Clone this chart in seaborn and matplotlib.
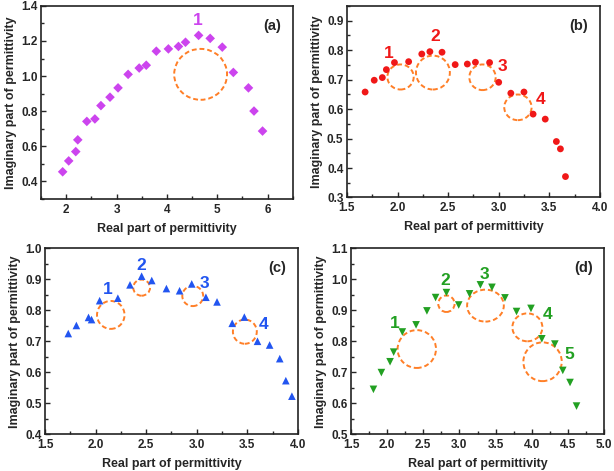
import matplotlib
matplotlib.use("Agg")
import matplotlib.pyplot as plt
from matplotlib.patches import Ellipse
from matplotlib.ticker import MultipleLocator, FormatStrFormatter
import seaborn as sns
import pandas as pd

# --- dados ---
a_real = [1.93, 2.05, 2.19, 2.23, 2.41, 2.57, 2.69, 2.87, 3.03, 3.23, 3.45, 3.59,
          3.79, 4.03, 4.23, 4.37, 4.63, 4.86, 5.10, 5.32, 5.62, 5.73, 5.90]
a_imag = [0.455, 0.517, 0.570, 0.637, 0.742, 0.756, 0.832, 0.880, 0.933, 1.010, 1.046, 1.062,
          1.142, 1.155, 1.169, 1.193, 1.232, 1.215, 1.165, 1.021, 0.933, 0.801, 0.687]

b_real = [1.68, 1.77, 1.85, 1.89, 1.97, 2.11, 2.24, 2.32, 2.44, 2.57, 2.69, 2.77,
          2.91, 3.00, 3.12, 3.25, 3.34, 3.46, 3.57, 3.61, 3.66]
b_imag = [0.658, 0.698, 0.707, 0.734, 0.758, 0.761, 0.787, 0.795, 0.793, 0.751, 0.753, 0.759,
          0.758, 0.691, 0.654, 0.658, 0.583, 0.566, 0.490, 0.465, 0.371]

c_real = [1.73, 1.81, 1.93, 1.96, 2.04, 2.22, 2.34, 2.455, 2.555, 2.70, 2.83, 2.95,
          3.09, 3.20, 3.35, 3.47, 3.60, 3.72, 3.82, 3.88, 3.94]
c_imag = [0.725, 0.751, 0.777, 0.770, 0.831, 0.839, 0.882, 0.910, 0.896, 0.870, 0.863, 0.885,
          0.842, 0.827, 0.758, 0.778, 0.700, 0.688, 0.644, 0.573, 0.523]

d_real = [1.81, 1.92, 2.04, 2.09, 2.21, 2.40, 2.55, 2.67, 2.82, 2.99, 3.14, 3.29,
          3.45, 3.63, 3.79, 3.99, 4.14, 4.32, 4.43, 4.53, 4.62]
d_imag = [0.645, 0.699, 0.734, 0.765, 0.830, 0.853, 0.898, 0.941, 0.957, 0.917, 0.953, 0.982,
          0.974, 0.940, 0.896, 0.906, 0.808, 0.791, 0.706, 0.667, 0.591]

# circulos tracejados: centro x, centro y, largura, altura (unidades de dados)
a_circ_x, a_circ_y, a_circ_w, a_circ_h = [4.67], [1.010], [1.05], [0.29]
b_circ_x = [2.03, 2.35, 2.84, 3.19]
b_circ_y = [0.709, 0.724, 0.708, 0.606]
b_circ_w = [0.26, 0.335, 0.26, 0.27]
b_circ_h = [0.085, 0.115, 0.087, 0.087]
c_circ_x = [2.15, 2.455, 2.96, 3.475]
c_circ_y = [0.785, 0.873, 0.846, 0.731]
c_circ_w = [0.272, 0.166, 0.206, 0.236]
c_circ_h = [0.090, 0.052, 0.065, 0.078]
d_circ_x = [2.41, 2.82, 3.36, 3.94, 4.15]
d_circ_y = [0.775, 0.921, 0.915, 0.845, 0.734]
d_circ_w = [0.531, 0.226, 0.508, 0.415, 0.531]
d_circ_h = [0.122, 0.053, 0.103, 0.090, 0.125]

# numeros dos circulos
a_lab_x, a_lab_y = [4.61], [1.316]
b_lab_x = [1.91, 2.37, 3.04, 3.41]
b_lab_y = [0.788, 0.845, 0.743, 0.634]
c_lab_x = [2.12, 2.45, 3.08, 3.66]
c_lab_y = [0.866, 0.944, 0.887, 0.755]
d_lab_x = [2.11, 2.81, 3.34, 4.22, 4.52]
d_lab_y = [0.858, 0.995, 1.017, 0.885, 0.758]

sns.set_style("white")
plt.rcParams['font.family'] = ['Liberation Sans', 'DejaVu Sans']
plt.rcParams['font.weight'] = 'bold'
plt.rcParams['axes.labelweight'] = 'bold'

CIRC_COLOR = '#FF7F27'

panels = [
    dict(tag='(a)', x=a_real, y=a_imag, color='#CC44EE', marker='D', s=24,
         cx=a_circ_x, cy=a_circ_y, cw=a_circ_w, ch=a_circ_h, lx=a_lab_x, ly=a_lab_y,
         xlim=(1.5, 6.5), ylim=(0.3, 1.4), xmaj=1, xmin=0.5, ymin=0.1,
         yticks=[0.4, 0.6, 0.8, 1.0, 1.2, 1.4], xfmt='%d',
         rect=[0.0668, 0.5775, 0.410, 0.410]),
    dict(tag='(b)', x=b_real, y=b_imag, color='#F01818', marker='o', s=24,
         cx=b_circ_x, cy=b_circ_y, cw=b_circ_w, ch=b_circ_h, lx=b_lab_x, ly=b_lab_y,
         xlim=(1.5, 4.0), ylim=(0.3, 0.95), xmaj=0.5, xmin=0.25, ymin=0.05,
         yticks=[0.3, 0.4, 0.5, 0.6, 0.7, 0.8, 0.9], xfmt='%.1f',
         rect=[0.565, 0.5807, 0.412, 0.4066]),
    dict(tag='(c)', x=c_real, y=c_imag, color='#2255F0', marker='^', s=30,
         cx=c_circ_x, cy=c_circ_y, cw=c_circ_w, ch=c_circ_h, lx=c_lab_x, ly=c_lab_y,
         xlim=(1.5, 4.0), ylim=(0.4, 1.0), xmaj=0.5, xmin=0.25, ymin=0.05,
         yticks=[0.4, 0.5, 0.6, 0.7, 0.8, 0.9, 1.0], xfmt='%.1f',
         rect=[0.0733, 0.0779, 0.412, 0.395]),
    dict(tag='(d)', x=d_real, y=d_imag, color='#22A022', marker='v', s=30,
         cx=d_circ_x, cy=d_circ_y, cw=d_circ_w, ch=d_circ_h, lx=d_lab_x, ly=d_lab_y,
         xlim=(1.5, 5.0), ylim=(0.5, 1.1), xmaj=0.5, xmin=0.25, ymin=0.05,
         yticks=[0.5, 0.6, 0.7, 0.8, 0.9, 1.0, 1.1], xfmt='%.1f',
         rect=[0.5717, 0.0779, 0.412, 0.395]),
]

fig = plt.figure(figsize=(6.14, 4.71), dpi=100)

for p in panels:
    ax = fig.add_axes(p['rect'])
    df = pd.DataFrame({'real': p['x'], 'imag': p['y']})
    sns.scatterplot(data=df, x='real', y='imag', ax=ax, color=p['color'],
                    marker=p['marker'], s=p['s'], edgecolor='none', zorder=3)

    # circulos tracejados e numeros
    for cx, cy, cw, ch in zip(p['cx'], p['cy'], p['cw'], p['ch']):
        ax.add_patch(Ellipse((cx, cy), cw, ch, fill=False, edgecolor=CIRC_COLOR,
                             linestyle=(0, (2.5, 1.5)), linewidth=1.4, zorder=2))
    for i, (lx, ly) in enumerate(zip(p['lx'], p['ly'])):
        ax.text(lx, ly, str(i + 1), color=p['color'], fontsize=12.5, fontweight='bold',
                ha='center', va='center')

    ax.text(0.955, 0.895, p['tag'], transform=ax.transAxes, fontsize=10.5,
            fontweight='bold', ha='right', va='center')

    ax.set_xlim(*p['xlim'])
    ax.set_ylim(*p['ylim'])
    ax.xaxis.set_major_locator(MultipleLocator(p['xmaj']))
    ax.xaxis.set_minor_locator(MultipleLocator(p['xmin']))
    ax.set_yticks(p['yticks'])
    ax.yaxis.set_minor_locator(MultipleLocator(p['ymin']))
    ax.xaxis.set_major_formatter(FormatStrFormatter(p['xfmt']))
    ax.yaxis.set_major_formatter(FormatStrFormatter('%.1f'))
    ax.tick_params(which='both', direction='in', top=False, right=False,
                   bottom=True, left=True, labelsize=8.5, width=1.0)
    ax.tick_params(axis='x', pad=3.5)
    ax.tick_params(axis='y', pad=2.5)
    ax.tick_params(which='major', length=3.5)
    ax.tick_params(which='minor', length=2)
    for lab in ax.get_xticklabels() + ax.get_yticklabels():
        lab.set_fontweight('bold')
    for sp in ax.spines.values():
        sp.set_linewidth(1.2)
        sp.set_color('#222222')
    ax.set_xlabel('Real part of permittivity', fontsize=9, labelpad=5)
    ax.set_ylabel('Imaginary part of permittivity', fontsize=9, labelpad=3)

fig.savefig('out.png', dpi=100)
